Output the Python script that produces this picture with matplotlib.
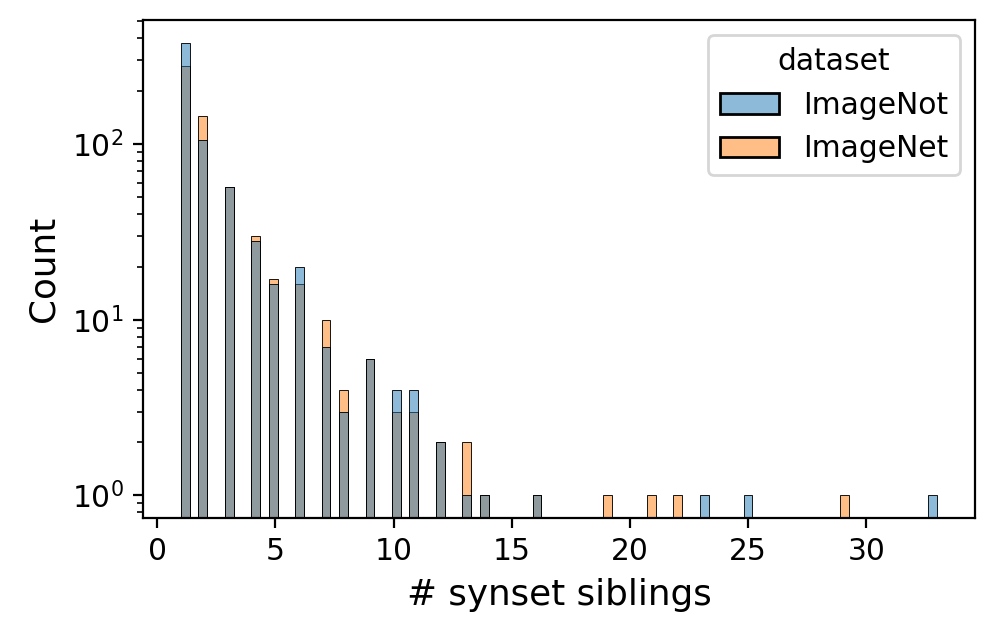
import numpy as np
import pandas as pd
import matplotlib
matplotlib.use("Agg")
import matplotlib.pyplot as plt
import seaborn as sns

# number of synset siblings and counts per dataset
imagenot_values = [1, 2, 3, 4, 5, 6, 7, 8, 9, 10, 11, 12, 13, 14, 16, 23, 25, 33]
imagenot_counts = [378, 105, 57, 28, 16, 20, 7, 3, 6, 4, 4, 2, 1, 1, 1, 1, 1, 1]
imagenet_values = [1, 2, 3, 4, 5, 6, 7, 8, 9, 10, 11, 12, 13, 14, 16, 19, 21, 22, 29]
imagenet_counts = [279, 145, 57, 30, 17, 16, 10, 4, 6, 3, 3, 2, 2, 1, 1, 1, 1, 1, 1]
hue_order = ["ImageNot", "ImageNet"]

df = pd.DataFrame({
    "siblings": np.concatenate([np.repeat(imagenot_values, imagenot_counts),
                                np.repeat(imagenet_values, imagenet_counts)]),
    "dataset": ["ImageNot"] * sum(imagenot_counts) + ["ImageNet"] * sum(imagenet_counts),
})

fs = 10.7
plt.rcParams["font.family"] = ["DejaVu Sans"]
plt.rcParams["font.size"] = fs

fig = plt.figure(figsize=(997 / 200, 636 / 200), dpi=200)
ax = fig.add_axes([143 / 997, 1 - 518 / 636, (975 - 143) / 997, (518 - 20) / 636])
sns.histplot(data=df, x="siblings", hue="dataset", hue_order=hue_order,
             bins=86, ax=ax)
ax.set_yscale("log")
ax.set_xlabel("# synset siblings", fontsize=12.9)
ax.set_ylabel("Count", fontsize=12.9)
ax.tick_params(labelsize=fs)
leg = ax.get_legend()
leg.get_title().set_fontsize(fs)
for t in leg.get_texts():
    t.set_fontsize(fs)

fig.savefig("out.png", dpi=200)
